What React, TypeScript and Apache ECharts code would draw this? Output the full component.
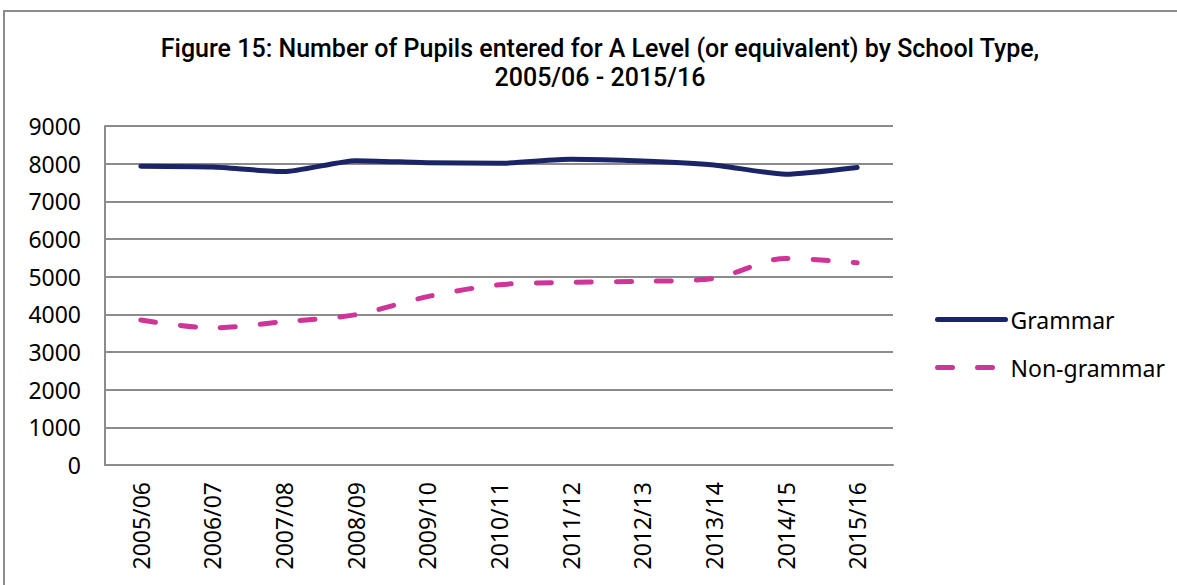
import React, { useEffect, useRef } from "react";
import * as echarts from "echarts";

const categories = ["2005/06", "2006/07", "2007/08", "2008/09", "2009/10", "2010/11", "2011/12", "2012/13", "2013/14", "2014/15", "2015/16"];
const grammar = [7930, 7910, 7790, 8080, 8025, 8010, 8115, 8070, 7965, 7720, 7900];
const nonGrammar = [3850, 3640, 3805, 3990, 4470, 4785, 4850, 4875, 4955, 5485, 5370];
const yTicks = { min: 0, max: 9000, interval: 1000 };
const titleLines = ["Figure 15: Number of Pupils entered for A Level (or equivalent) by School Type,", "2005/06 - 2015/16"];

export default function App() {
  const ref = useRef<HTMLDivElement>(null);
  useEffect(() => {
    const chart = echarts.init(ref.current!, null, { renderer: "svg" });
    const font = "'Noto Sans', 'Open Sans', sans-serif";
    const titleFont = "500 25px 'Roboto', sans-serif";
    chart.setOption({
      animation: false,
      backgroundColor: "#ffffff",
      graphic: [
        {
          type: "rect",
          shape: { x: 4, y: 11, width: 1250, height: 700 },
          style: { fill: "none", stroke: "#8c8c8c", lineWidth: 2 },
          silent: true,
        },
        {
          type: "text",
          x: 600,
          y: 48,
          style: { text: titleLines[0], font: titleFont, fill: "#000", align: "center", verticalAlign: "middle" },
        },
        {
          type: "text",
          x: 600,
          y: 77,
          style: { text: titleLines[1], font: titleFont, fill: "#000", align: "center", verticalAlign: "middle" },
        },
      ],
      legend: {
        orient: "vertical",
        left: 930,
        top: 303,
        itemWidth: 68,
        itemHeight: 14,
        itemGap: 25,
        itemStyle: { opacity: 0 },
        lineStyle: { width: 5 },
        textStyle: { fontFamily: font, fontSize: 23, color: "#000" },
        data: ["Grammar", "Non-grammar"],
      },
      grid: { left: 105, top: 126, width: 788, height: 339, containLabel: false },
      xAxis: {
        type: "category",
        data: categories,
        boundaryGap: true,
        axisLine: { lineStyle: { color: "#8c8c8c", width: 2 } },
        axisTick: { show: false },
        axisLabel: { rotate: 90, margin: 17, fontFamily: font, fontSize: 23, color: "#000", interval: 0 },
      },
      yAxis: {
        type: "value",
        min: yTicks.min,
        max: yTicks.max,
        interval: yTicks.interval,
        axisLine: { show: true, lineStyle: { color: "#8c8c8c", width: 2 } },
        axisTick: { show: false },
        splitLine: { lineStyle: { color: "#8c8c8c", width: 2 } },
        axisLabel: { margin: 24, fontFamily: font, fontSize: 23, color: "#000", formatter: (v: number) => String(v) },
      },
      series: [
        {
          name: "Grammar",
          type: "line",
          data: grammar,
          smooth: 0.2,
          showSymbol: false,
          symbol: "none",
          color: "#1b2466",
          lineStyle: { color: "#1b2466", width: 5, cap: "round", join: "round" },
        },
        {
          name: "Non-grammar",
          type: "line",
          data: nonGrammar,
          smooth: 0.3,
          showSymbol: false,
          symbol: "none",
          color: "#cf3597",
          lineStyle: { color: "#cf3597", width: 5, type: [15, 25], cap: "round" },
        },
      ],
    });
    return () => chart.dispose();
  }, []);
  return <div ref={ref} style={{ position: "fixed", left: 0, top: 0, width: 1177, height: 585 }} />;
}
